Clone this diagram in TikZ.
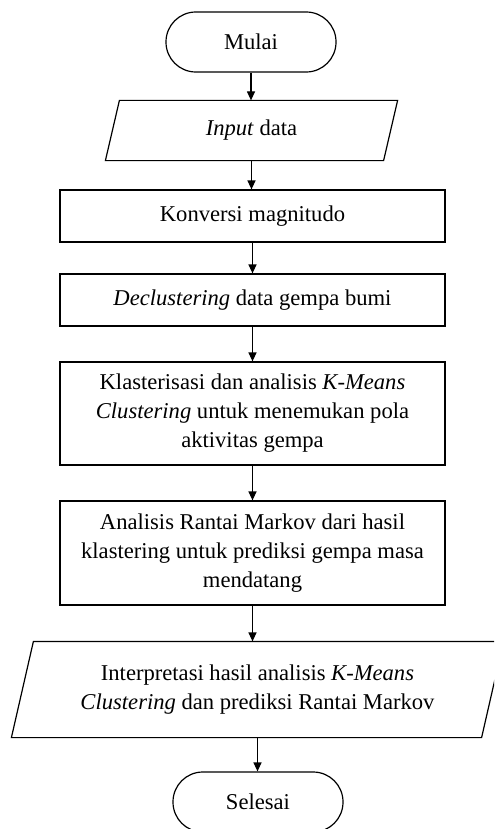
\documentclass[tikz,border=0pt]{standalone}
\usepackage{fontspec}
\setmainfont{Liberation Serif}
\usetikzlibrary{arrows.meta}
\begin{document}
\begin{tikzpicture}[x=0.5pt,y=-0.5pt,
  every node/.style={font=\fontsize{11.3}{14.5}\selectfont, align=center, line width=0.6pt},
  terminal/.style={draw, rectangle, rounded corners=14.9pt, minimum width=85pt, minimum height=30pt, inner sep=0pt},
  iobox/.style={rectangle, inner sep=0pt},
  process/.style={draw, rectangle, minimum width=192.5pt, inner sep=0pt},
  shapeline/.style={line width=0.6pt},
  arr/.style={line width=0.6pt, -{Triangle[length=4.5pt,width=4pt]}}
]
\useasboundingbox (0,0) rectangle (494,829);
\clip (0,0) rectangle (494,829);
\node[terminal] (start) at (251,42) {Mulai};
\node[iobox, minimum width=138.5pt, minimum height=29.5pt] (input) at (251.5,130.5) {\textit{Input} data};
\draw[shapeline] ([xshift=3.5pt]input.north west) -- ([xshift=3.5pt]input.north east) -- ([xshift=-3.5pt]input.south east) -- ([xshift=-3.5pt]input.south west) -- cycle;
\node[process, minimum height=26pt] (konv) at (252.5,216) {Konversi magnitudo};
\node[process, minimum height=26pt] (decl) at (252.5,300) {\textit{Declustering} data gempa bumi};
\node[process, minimum height=51.5pt] (klas) at (252.5,413.5) {Klasterisasi dan analisis \textit{K-Means}\\\textit{Clustering} untuk menemukan pola\\aktivitas gempa};
\node[process, minimum height=52pt] (mark) at (252.5,553) {Analisis Rantai Markov dari hasil\\klastering untuk prediksi gempa masa\\mendatang};
\node[iobox, minimum width=234.5pt, minimum height=47.5pt] (interp) at (257.5,689.5) {Interpretasi hasil analisis \textit{K-Means}\\\textit{Clustering} dan prediksi Rantai Markov};
\draw[shapeline] ([xshift=5.5pt]interp.north west) -- ([xshift=5.5pt]interp.north east) -- ([xshift=-5.5pt]interp.south east) -- ([xshift=-5.5pt]interp.south west) -- cycle;
\node[terminal] (end) at (258,802) {Selesai};
\draw[arr] (start) -- (start.south |- input.north);
\draw[arr] (input) -- (input.south |- konv.north);
\draw[arr] (konv) -- (decl);
\draw[arr] (decl) -- (klas);
\draw[arr] (klas) -- (mark);
\draw[arr] (mark) -- (mark.south |- interp.north);
\draw[arr] (interp) -- (interp.south |- end.north);
\end{tikzpicture}
\end{document}
